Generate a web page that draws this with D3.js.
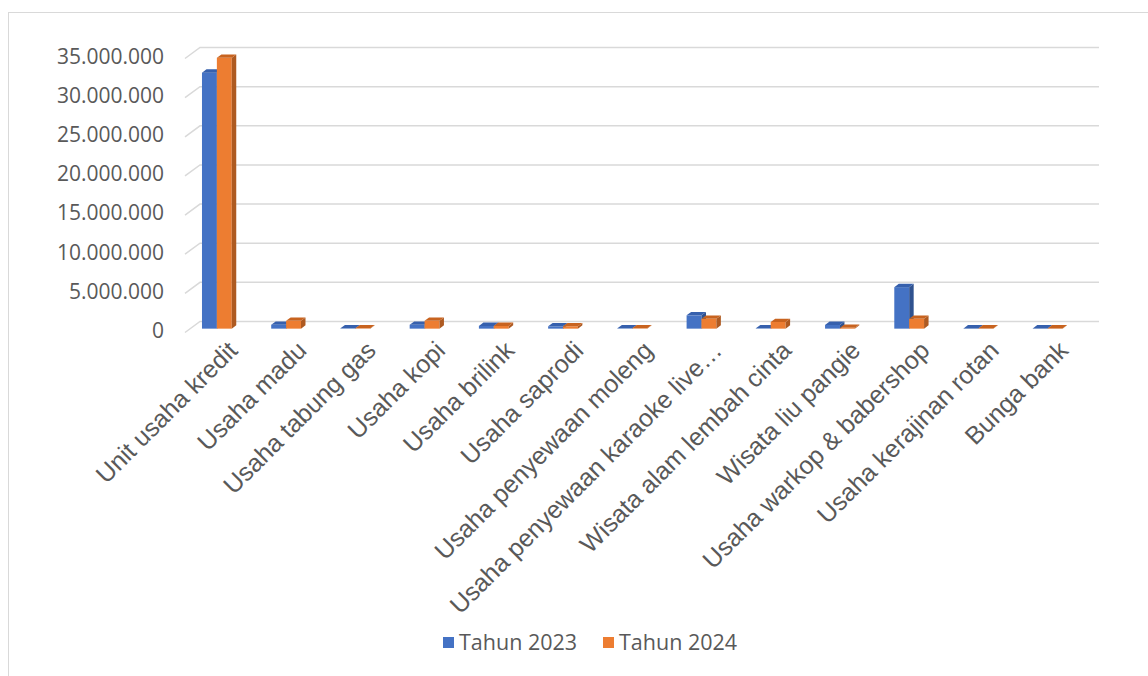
<html>
<head>
<meta charset="utf-8">
<style>
  body { margin: 0; background: #fff; }
  .grid { fill: none; stroke: #d9d9d9; stroke-width: 1.5; }
  .ylab { font-family: "Open Sans", sans-serif; font-size: 21px; fill: #595959; }
  .xlab { font-family: "Liberation Sans", Arial, sans-serif; font-size: 25px; fill: #595959; }
  .leg { font-family: "Open Sans", sans-serif; font-size: 21.5px; fill: #595959; }
</style>
<script src="https://cdn.jsdelivr.net/npm/d3@7"></script>
</head>
<body>
<script>
// data
var categories = ["Unit usaha kredit", "Usaha madu", "Usaha tabung gas", "Usaha kopi", "Usaha brilink",
  "Usaha saprodi", "Usaha penyewaan moleng", "Usaha penyewaan karaoke live…", "Wisata alam lembah cinta",
  "Wisata liu pangie", "Usaha warkop & babershop", "Usaha kerajinan rotan", "Bunga bank"];
var series = ["Tahun 2023", "Tahun 2024"];
var values2023 = [32700000, 500000, 50000, 500000, 350000, 300000, 50000, 1700000, 50000, 480000, 5300000, 30000, 30000];
var values2024 = [34600000, 1000000, 50000, 1000000, 350000, 300000, 50000, 1250000, 850000, 100000, 1250000, 30000, 30000];
var yTicks = [0, 5000000, 10000000, 15000000, 20000000, 25000000, 30000000, 35000000];

var colors = [
  {front: "#4472c4", side: "#2f528f", top: "#3660ad"},
  {front: "#ed7d31", side: "#ae5a21", top: "#c8631f"}
];

var width = 1148, height = 676;
var DX = 15, DY = -11;          // full depth offset of the floor
var barFront = 0.35, barDepth = 0.3;

var svg = d3.select("body").append("svg")
  .attr("width", width).attr("height", height);

// outer border
svg.append("rect").attr("x", 8.5).attr("y", 12.5)
  .attr("width", 1200).attr("height", 800)
  .attr("fill", "none").attr("stroke", "#d9d9d9").attr("stroke-width", 1);

var y = d3.scaleLinear().domain([0, 35000000]).range([332.5, 58.5]);
var x = d3.scaleBand().domain(categories).range([177, 1077]).paddingInner(0).paddingOuter(0);

var fmt = function(v) { return d3.format(",")(v).replace(/,/g, "."); };

// gridlines (floor diagonal + back wall)
svg.selectAll("path.grid").data(yTicks).enter().append("path")
  .attr("class", "grid")
  .attr("d", function(d) {
    var yf = y(d);
    return "M185," + yf + "L" + (185 + DX) + "," + (yf + DY) + "L1099," + (yf + DY);
  });

svg.selectAll("text.ylab").data(yTicks).enter().append("text")
  .attr("class", "ylab")
  .attr("x", 164).attr("y", function(d) { return y(d) - 2; })
  .attr("dy", "0.35em").attr("text-anchor", "end")
  .text(fmt);

// bars
var bw = x.step() * 0.215;
var bdx = DX * barDepth, bdy = DY * barDepth;
var bars = [];
categories.forEach(function(c, i) {
  [values2023[i], values2024[i]].forEach(function(v, s) {
    bars.push({cat: c, s: s, v: v});
  });
});

var g = svg.selectAll("g.bar").data(bars).enter().append("g").attr("class", "bar");
function geom(d) {
  var cx = x(d.cat) + x.bandwidth() / 2 + DX * barFront;
  var x0 = cx - bw + d.s * bw, x1 = x0 + bw;
  var yb = y(0) + DY * barFront, yt = y(d.v) + DY * barFront;
  return {x0: x0, x1: x1, yb: yb, yt: yt};
}
g.append("rect")
  .attr("x", function(d) { return geom(d).x0; })
  .attr("y", function(d) { return geom(d).yt; })
  .attr("width", bw)
  .attr("height", function(d) { var q = geom(d); return q.yb - q.yt; })
  .attr("fill", function(d) { return colors[d.s].front; });
g.append("path")
  .attr("d", function(d) {
    var q = geom(d);
    return "M" + q.x1 + "," + q.yt + "L" + (q.x1 + bdx) + "," + (q.yt + bdy) +
      "L" + (q.x1 + bdx) + "," + (q.yb + bdy) + "L" + q.x1 + "," + q.yb + "Z";
  })
  .attr("fill", function(d) { return colors[d.s].side; });
g.append("path")
  .attr("d", function(d) {
    var q = geom(d);
    return "M" + q.x0 + "," + q.yt + "L" + (q.x0 + bdx) + "," + (q.yt + bdy) +
      "L" + (q.x1 + bdx) + "," + (q.yt + bdy) + "L" + q.x1 + "," + q.yt + "Z";
  })
  .attr("fill", function(d) { return colors[d.s].top; });

// category labels
svg.selectAll("text.xlab").data(categories).enter().append("text")
  .attr("class", "xlab")
  .attr("text-anchor", "end")
  .attr("transform", function(d) {
    var cx = x(d) + x.bandwidth() / 2 + DX * barFront;
    return "translate(" + (cx + 22) + ",352) rotate(-45)";
  })
  .text(function(d) { return d; });

// legend
var legX = [443, 603];
var leg = svg.selectAll("g.leg").data(series).enter().append("g")
  .attr("transform", function(d, i) { return "translate(" + legX[i] + ",637)"; });
leg.append("rect").attr("width", 11).attr("height", 11)
  .attr("fill", function(d, i) { return colors[i].front; });
leg.append("text").attr("class", "leg").attr("x", 16).attr("y", 5.5).attr("dy", "0.35em")
  .text(function(d) { return d; });
</script>
</body>
</html>
